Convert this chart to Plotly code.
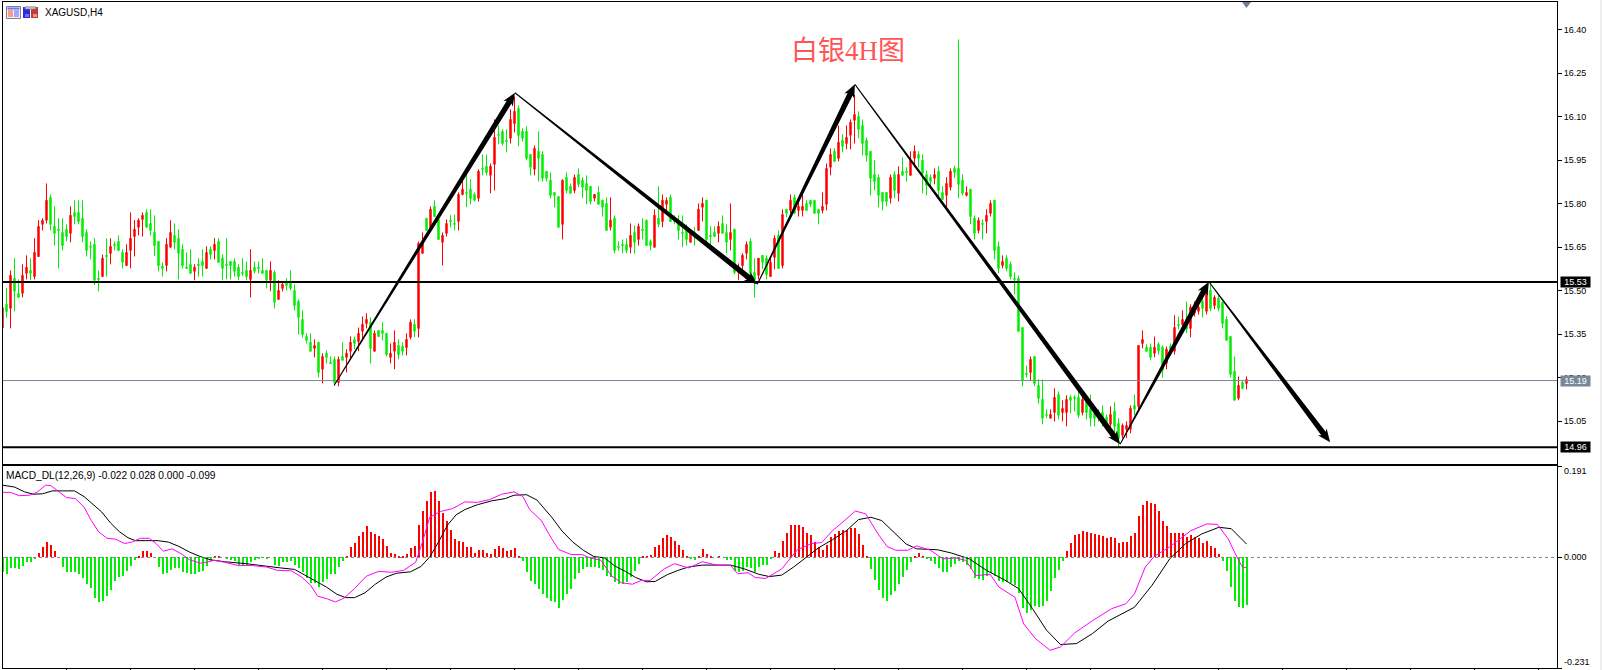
import math
import plotly.graph_objects as go
from plotly.subplots import make_subplots

SYMBOL = "XAGUSD,H4"
HEADING = "白银4H图"
MACD_CAPTION = "MACD_DL(12,26,9) -0.022 0.028 0.000 -0.099"

# R = bar closed higher, G = bar closed lower
directions = (
    "RGRGGRRGRR" "RRGGGGGRGG" "GGGGGRGRGG" "GRRRRRGGGG" "GRRGGGGGRG" "GRGRGGGGGG"
    "GGRGGGGRGR" "RGGGGGGGRG" "RGGGRGRRGR" "RRGRGGGRRG" "GRRGRRGRGG" "RRGGRRGGGR"
    "GGRRGGGRRG" "GGGRGGGGGG" "RGGRGGGGRG" "GGRGGGGRGR" "GGGRGRRGGG" "GGRGRRGGGR"
    "GGRGRRRGGR" "GGRRGRGRGR" "RGGGGRRRGR" "GRRRGGGGGG" "GGRGRGGRRG" "GGGRGGRRGG"
    "GRGGRGRRGG" "RGGGGGGRGG" "GGRRGRRGGG" "RGGGGGGRGG" "RRRGRRGGRG" "GRGRGRGRRR"
    "GRGRGGGGGR" "GR"
)

highs = [
    15.441,15.510,15.570,15.612,15.539,15.591,15.622,15.612,15.681,15.743,
    15.750,15.870,15.832,15.791,15.750,15.750,15.729,15.791,15.812,15.812,
    15.812,15.712,15.670,15.681,15.570,15.625,15.681,15.681,15.670,15.691,
    15.643,15.660,15.770,15.743,15.750,15.770,15.781,15.781,15.760,15.670,
    15.598,15.681,15.743,15.732,15.712,15.660,15.632,15.643,15.591,15.612,
    15.643,15.653,15.653,15.681,15.681,15.625,15.681,15.601,15.612,15.591,
    15.612,15.601,15.643,15.601,15.601,15.612,15.570,15.601,15.570,15.536,
    15.532,15.543,15.570,15.522,15.470,15.432,15.353,15.353,15.332,15.322,
    15.284,15.294,15.273,15.273,15.273,15.322,15.298,15.342,15.342,15.373,
    15.411,15.422,15.408,15.363,15.363,15.391,15.353,15.318,15.363,15.332,
    15.322,15.353,15.401,15.401,15.670,15.701,15.750,15.791,15.812,15.746,
    15.701,15.746,15.760,15.763,15.839,15.884,15.901,15.884,15.839,15.919,
    15.970,15.970,15.939,16.091,16.070,16.057,16.057,16.126,16.170,16.139,
    16.060,16.067,15.970,16.001,16.050,15.981,15.912,15.908,15.839,15.825,
    15.884,15.908,15.870,15.901,15.922,15.891,15.898,15.860,15.832,15.860,
    15.812,15.822,15.822,15.760,15.670,15.677,15.681,15.732,15.725,15.732,
    15.750,15.746,15.677,15.781,15.860,15.832,15.822,15.832,15.760,15.760,
    15.760,15.729,15.712,15.719,15.801,15.822,15.812,15.722,15.722,15.739,
    15.760,15.729,15.801,15.712,15.594,15.629,15.670,15.681,15.612,15.612,
    15.622,15.622,15.618,15.691,15.708,15.781,15.781,15.832,15.832,15.812,
    15.832,15.812,15.812,15.812,15.781,15.839,15.939,15.991,15.991,16.070,
    16.039,16.070,16.091,16.177,16.119,16.091,16.029,15.981,15.950,15.901,
    15.839,15.839,15.901,15.912,15.929,15.960,15.926,15.981,16.001,15.981,
    15.970,15.915,15.901,15.922,15.929,15.860,15.891,15.922,15.932,16.367,
    15.901,15.860,15.850,15.760,15.753,15.746,15.781,15.812,15.812,15.670,
    15.622,15.622,15.601,15.563,15.553,15.373,15.242,15.273,15.273,15.194,
    15.194,15.091,15.091,15.163,15.153,15.122,15.139,15.139,15.139,15.153,
    15.142,15.142,15.142,15.087,15.091,15.104,15.073,15.101,15.115,15.060,
    15.042,15.049,15.104,15.142,15.311,15.363,15.315,15.318,15.342,15.322,
    15.311,15.308,15.318,15.415,15.411,15.432,15.463,15.453,15.463,15.463,
    15.484,15.505,15.532,15.484,15.484,15.460,15.411,15.342,15.273,15.204,
    15.191,15.204,
]

body_tops = [
    15.441,15.453,15.553,15.543,15.491,15.553,15.581,15.570,15.632,15.722,
    15.743,15.812,15.822,15.722,15.712,15.701,15.712,15.760,15.770,15.770,
    15.750,15.701,15.653,15.660,15.543,15.612,15.622,15.653,15.660,15.670,
    15.632,15.632,15.681,15.712,15.743,15.760,15.770,15.732,15.701,15.670,
    15.584,15.660,15.701,15.691,15.681,15.643,15.581,15.591,15.581,15.591,
    15.601,15.632,15.643,15.660,15.670,15.612,15.591,15.601,15.601,15.581,
    15.563,15.570,15.570,15.581,15.581,15.570,15.570,15.570,15.563,15.501,
    15.522,15.529,15.532,15.501,15.463,15.401,15.342,15.322,15.311,15.322,
    15.273,15.284,15.253,15.263,15.263,15.273,15.284,15.322,15.332,15.353,
    15.384,15.401,15.391,15.353,15.363,15.363,15.353,15.284,15.322,15.311,
    15.308,15.332,15.391,15.384,15.663,15.663,15.750,15.781,15.791,15.746,
    15.691,15.732,15.743,15.732,15.832,15.850,15.839,15.850,15.832,15.912,
    15.922,15.929,15.929,16.029,16.039,16.050,16.019,16.091,16.119,16.129,
    16.050,16.050,15.970,15.991,15.981,15.970,15.912,15.881,15.839,15.825,
    15.881,15.891,15.860,15.891,15.901,15.881,15.870,15.860,15.832,15.839,
    15.812,15.801,15.743,15.750,15.653,15.660,15.660,15.691,15.701,15.722,
    15.712,15.743,15.670,15.760,15.750,15.812,15.812,15.822,15.743,15.732,
    15.701,15.722,15.701,15.701,15.781,15.801,15.812,15.691,15.701,15.722,
    15.732,15.701,15.701,15.712,15.581,15.622,15.660,15.670,15.563,15.612,
    15.622,15.612,15.598,15.681,15.691,15.763,15.781,15.812,15.822,15.791,
    15.791,15.801,15.812,15.812,15.781,15.791,15.922,15.970,15.981,16.012,
    16.019,16.029,16.081,16.108,16.101,16.070,16.019,15.981,15.901,15.891,
    15.839,15.839,15.891,15.901,15.901,15.912,15.912,15.950,15.981,15.970,
    15.950,15.901,15.891,15.901,15.912,15.839,15.870,15.912,15.922,15.922,
    15.881,15.839,15.850,15.750,15.743,15.732,15.760,15.801,15.812,15.653,
    15.601,15.612,15.591,15.543,15.543,15.373,15.215,15.263,15.273,15.173,
    15.125,15.073,15.073,15.132,15.142,15.094,15.125,15.132,15.132,15.132,
    15.125,15.118,15.094,15.077,15.080,15.080,15.063,15.073,15.084,15.042,
    15.035,15.035,15.094,15.104,15.311,15.332,15.305,15.305,15.305,15.315,
    15.305,15.298,15.308,15.373,15.384,15.401,15.401,15.443,15.443,15.443,
    15.463,15.498,15.501,15.477,15.474,15.460,15.401,15.342,15.222,15.173,
    15.184,15.194,
]

body_bottoms = [
    15.372,15.428,15.439,15.498,15.477,15.491,15.560,15.560,15.549,15.618,
    15.729,15.743,15.729,15.698,15.708,15.656,15.687,15.698,15.756,15.739,
    15.687,15.639,15.650,15.536,15.539,15.549,15.618,15.629,15.656,15.639,
    15.598,15.587,15.639,15.687,15.719,15.746,15.719,15.708,15.656,15.587,
    15.577,15.587,15.650,15.667,15.629,15.587,15.577,15.560,15.567,15.587,
    15.587,15.577,15.625,15.639,15.598,15.577,15.587,15.587,15.567,15.549,
    15.560,15.549,15.539,15.567,15.577,15.560,15.536,15.536,15.460,15.470,
    15.508,15.518,15.508,15.449,15.408,15.349,15.329,15.291,15.301,15.218,
    15.229,15.270,15.249,15.183,15.183,15.260,15.270,15.291,15.318,15.325,
    15.360,15.387,15.301,15.291,15.342,15.353,15.280,15.270,15.291,15.280,
    15.291,15.304,15.339,15.360,15.370,15.629,15.708,15.719,15.756,15.677,
    15.667,15.698,15.739,15.729,15.739,15.832,15.836,15.819,15.812,15.819,
    15.919,15.908,15.898,15.936,16.036,16.008,16.015,16.026,16.077,16.036,
    16.026,15.957,15.926,15.919,15.957,15.888,15.888,15.829,15.829,15.719,
    15.729,15.846,15.836,15.846,15.867,15.857,15.846,15.808,15.819,15.798,
    15.788,15.708,15.719,15.639,15.650,15.656,15.639,15.650,15.667,15.677,
    15.708,15.656,15.656,15.650,15.729,15.739,15.798,15.739,15.739,15.708,
    15.698,15.677,15.667,15.698,15.708,15.788,15.677,15.687,15.687,15.698,
    15.698,15.667,15.677,15.563,15.563,15.587,15.629,15.560,15.539,15.553,
    15.598,15.556,15.549,15.615,15.577,15.587,15.767,15.777,15.767,15.777,
    15.777,15.777,15.798,15.767,15.767,15.777,15.798,15.926,15.946,15.957,
    15.998,16.008,16.036,16.088,16.057,16.008,15.967,15.888,15.877,15.829,
    15.808,15.808,15.819,15.846,15.836,15.898,15.908,15.898,15.957,15.957,
    15.905,15.863,15.877,15.888,15.846,15.815,15.829,15.857,15.908,15.867,
    15.836,15.829,15.756,15.698,15.708,15.729,15.739,15.767,15.639,15.577,
    15.587,15.577,15.549,15.539,15.360,15.191,15.211,15.218,15.180,15.129,
    15.060,15.070,15.060,15.080,15.070,15.080,15.080,15.122,15.129,15.070,
    15.080,15.080,15.060,15.060,15.066,15.060,15.042,15.039,15.032,14.991,
    15.001,15.022,15.022,15.091,15.101,15.318,15.291,15.270,15.284,15.294,
    15.225,15.249,15.298,15.291,15.380,15.384,15.367,15.370,15.422,15.429,
    15.439,15.429,15.439,15.449,15.439,15.387,15.329,15.211,15.122,15.129,
    15.163,15.180,
]

lows = [
    15.372,15.407,15.370,15.429,15.477,15.477,15.539,15.536,15.539,15.618,
    15.708,15.732,15.708,15.656,15.577,15.639,15.670,15.667,15.729,15.729,
    15.667,15.618,15.608,15.520,15.498,15.549,15.549,15.591,15.639,15.639,
    15.577,15.587,15.577,15.618,15.691,15.687,15.719,15.691,15.620,15.567,
    15.549,15.567,15.650,15.643,15.539,15.577,15.577,15.560,15.536,15.549,
    15.549,15.577,15.608,15.608,15.598,15.536,15.539,15.539,15.549,15.536,
    15.551,15.536,15.477,15.560,15.560,15.560,15.508,15.498,15.439,15.470,
    15.498,15.501,15.501,15.432,15.349,15.338,15.318,15.291,15.270,15.201,
    15.180,15.249,15.249,15.173,15.170,15.260,15.218,15.263,15.298,15.291,
    15.332,15.370,15.249,15.291,15.342,15.329,15.273,15.249,15.229,15.263,
    15.277,15.277,15.332,15.339,15.339,15.629,15.708,15.719,15.756,15.677,
    15.587,15.687,15.719,15.708,15.708,15.829,15.788,15.798,15.808,15.808,
    15.898,15.898,15.836,15.846,16.005,16.001,15.977,16.008,16.046,15.998,
    16.015,15.950,15.898,15.898,15.877,15.877,15.877,15.819,15.788,15.719,
    15.677,15.836,15.836,15.836,15.857,15.819,15.798,15.798,15.808,15.798,
    15.756,15.708,15.708,15.629,15.639,15.629,15.629,15.629,15.629,15.656,
    15.677,15.656,15.639,15.650,15.719,15.719,15.767,15.739,15.729,15.677,
    15.650,15.656,15.667,15.656,15.708,15.739,15.667,15.656,15.687,15.667,
    15.698,15.629,15.639,15.556,15.536,15.556,15.608,15.539,15.477,15.539,
    15.574,15.539,15.549,15.574,15.577,15.577,15.753,15.767,15.767,15.756,
    15.756,15.777,15.788,15.767,15.729,15.767,15.777,15.898,15.946,15.946,
    15.977,15.988,15.988,16.008,16.026,15.967,15.946,15.829,15.846,15.788,
    15.777,15.791,15.801,15.819,15.808,15.898,15.877,15.898,15.926,15.926,
    15.836,15.829,15.863,15.867,15.825,15.815,15.777,15.846,15.888,15.819,
    15.829,15.825,15.729,15.677,15.698,15.677,15.698,15.756,15.608,15.560,
    15.577,15.567,15.539,15.487,15.360,15.170,15.201,15.191,15.170,15.111,
    15.039,15.060,15.060,15.049,15.056,15.049,15.032,15.077,15.084,15.060,
    15.070,15.056,15.032,15.032,15.049,15.032,15.018,15.008,15.001,14.960,
    14.991,14.991,15.008,15.070,15.091,15.301,15.291,15.260,15.270,15.280,
    15.201,15.229,15.280,15.280,15.367,15.353,15.353,15.339,15.411,15.418,
    15.408,15.418,15.429,15.436,15.429,15.370,15.329,15.201,15.122,15.122,
    15.160,15.160,
]

macd_hist = [
    -.030,-.034,-.023,-.023,-.024,-.018,-.010,-.009,-.003,.010,
    .021,.033,.027,.013,0,-.019,-.031,-.031,-.031,-.035,
    -.044,-.056,-.063,-.084,-.093,-.090,-.081,-.067,-.049,-.040,
    -.038,-.029,-.018,-.006,.004,.013,.013,.010,0,-.020,
    -.035,-.033,-.027,-.023,-.023,-.031,-.033,-.035,-.035,-.031,
    -.029,-.017,-.008,.004,.002,0,-.002,-.006,-.008,-.015,
    -.017,-.015,-.010,-.006,-.002,0,-.004,0,-.015,-.017,
    -.010,-.010,-.008,-.015,-.023,-.031,-.044,-.054,-.054,-.062,
    -.052,-.046,-.035,-.035,-.021,-.008,.004,.021,.031,.044,
    .054,.065,.054,.048,.045,.038,.023,.010,.008,.004,
    .004,.008,.019,.023,.067,.096,.117,.136,.138,.117,
    .092,.077,.058,.038,.035,.033,.021,.021,.010,.015,
    .015,.010,.008,.017,.023,.019,.013,.015,.019,.004,
    -.008,-.031,-.050,-.056,-.065,-.077,-.084,-.092,-.094,-.106,
    -.088,-.077,-.065,-.046,-.033,-.025,-.019,-.021,-.021,-.023,
    -.027,-.038,-.040,-.052,-.056,-.056,-.052,-.040,-.029,-.013,
    .002,.004,.006,.021,.025,.040,.046,.042,.035,.025,
    .015,.002,-.002,-.006,.004,.017,.008,.004,0,.002,
    0,-.006,-.006,-.029,-.031,-.029,-.021,-.023,-.031,-.021,
    -.015,-.015,-.004,.013,.010,.035,.052,.067,.067,.067,
    .063,.052,.046,.033,.021,.015,.027,.042,.048,.056,
    .058,.058,.061,.061,.048,.027,.004,-.025,-.048,-.069,
    -.084,-.090,-.079,-.071,-.056,-.040,-.027,-.010,.002,.010,
    .004,-.002,-.008,-.013,-.023,-.031,-.031,-.019,-.013,-.008,
    -.010,-.015,-.025,-.042,-.046,-.048,-.038,-.033,-.038,-.050,
    -.052,-.052,-.054,-.058,-.075,-.106,-.117,-.109,-.102,-.104,
    -.102,-.090,-.071,-.042,-.027,-.008,.013,.031,.046,.048,
    .056,.054,.050,.048,.046,.044,.040,.042,.040,.031,
    .033,.033,.044,.050,.086,.109,.117,.113,.111,.098,
    .077,.065,.050,.050,.050,.050,.042,.046,.042,.040,
    .031,.035,.023,.019,.008,-.008,-.029,-.061,-.092,-.104,
    -.106,-.099,
]

macd_bars = [
    0,2,4.2,6.8,8.6,10.8,12.1,14.7,16,18.2,20.4,22.2,24,26.1,28.3,30.5,32.3,34.5,36.7,38.4,
    40.2,42.4,44.6,46.8,49.4,51.1,52.9,55.5,59,62.5,66,68.7,72.2,74.8,77,78.8,81,83.2,85.4,88,
    91,94.1,97.2,100.3,103.3,105.1,106.8,109.5,112.5,115.6,118.7,121.8,124.8,127.9,130.1,131.8,
    134.7,137.3,139,142.1,144.8,146.9,149.6,152.2,154.8,157.5,159.7,161.9,165.4,168,171.5,175,
    178.5,182,183.8,186.4,188.2,190.8,193,194.8,198.7,202.2,204.8,207.5,210.1,213.2,215.8,218.9,
    221.1,223.3,226.3,228.5,232,235.1,238.2,240.8,243.4,246.9,249.1,253.1,255.3,258.3,261.9,
    264.5,268,272.5,277.3,280.8,283,285.7,287.9,291.8,297.1,301.1,303.7,306.4,308.6,309.9,311,
]
macd_values = [
    .136,.136,.129,.130,.136,.151,.150,.133,.125,.123,.105,.077,.054,.040,.038,.029,.032,.040,.040,.029,
    .013,.018,.008,-.005,-.012,-.010,-.006,-.010,-.017,-.017,-.020,-.027,-.028,-.041,-.058,-.081,-.086,-.093,-.085,-.065,
    -.039,-.029,-.031,-.027,-.010,.035,.084,.096,.102,.116,.115,.121,.132,.137,.127,.100,
    .077,.039,.017,.006,.006,-.001,-.006,-.038,-.053,-.056,-.048,-.048,-.024,-.013,-.022,-.009,
    -.016,-.017,-.034,-.032,-.042,-.044,-.033,-.024,.016,.029,.031,.056,.074,.097,.091,.049,
    .023,.015,.015,.024,.015,-.003,-.001,-.006,-.038,-.035,-.062,-.083,-.139,-.170,-.194,
    -.187,-.158,-.132,-.107,-.097,-.076,-.020,.002,.022,.056,.070,.069,.039,.001,-.019,-.022,
]

signal_bars = [
    0,3,5.5,7.7,10,12.5,15,18,20.4,22.6,24.8,27,29.2,31.4,33.2,35.8,38.9,41.5,44.1,46.8,
    49.4,52,55.5,60.8,66,69.6,73,75.7,78.3,81,83.6,85.8,88,90.6,93.2,95.9,98.5,102,104.6,106.8,
    109,111.2,113.4,115.6,118.7,122.2,125.7,127.9,131,133.6,
    137.3,139.9,142.6,145.2,147.8,150.5,153.1,155.7,158.3,161,163.2,166.2,168.9,171.5,175,182,
    185.5,189,191.7,194.8,197.8,200.9,204,207.5,211,214,217.1,219.8,222.4,225.9,228.5,233.8,
    237.3,241.7,246,250.5,254,257.5,261,264.5,268.5,272.5,276.4,283,287.4,291.8,295.8,299.8,
    304.1,307.2,311,
]
signal_values = [
    .151,.147,.137,.132,.133,.139,.139,.139,.127,.112,.095,.072,.054,.041,.035,.035,.035,.032,.023,.011,
    .002,-.005,-.009,-.013,-.019,-.022,-.025,-.038,-.049,-.062,-.077,-.084,-.084,-.074,-.056,-.041,-.033,-.030,-.019,.001,
    .032,.067,.089,.100,.110,.118,.123,.130,.131,.120,
    .084,.055,.032,.015,.002,-.001,-.018,-.029,-.042,-.051,-.050,-.036,-.027,-.020,-.016,-.016,
    -.024,-.035,-.040,-.037,-.020,0,.020,.037,.056,.079,.084,.077,.056,.028,.018,.016,
    .009,-.003,-.027,-.047,-.065,-.107,-.152,-.182,-.180,-.159,-.133,-.104,-.058,-.003,.029,.049,
    .063,.060,.028,
]

# Support and resistance levels with their colours
levels = [15.53, 15.19, 14.96]
level_colors = ["#000000", "#778899", "#000000"]
level_widths = [2, 1, 2]

# Swing path drawn with tapered arrows: (bar position, price)
swing_bars = [82.9, 128.1, 188.7, 213.1, 279.4, 301.6, 331.9]
swing_prices = [15.173, 16.183, 15.522, 16.212, 14.970, 15.531, 14.977]

price_ticks = [16.40, 16.25, 16.10, 15.95, 15.80, 15.65, 15.50, 15.35, 15.20, 15.05]
macd_ticks = [0.191, 0.0, -0.231]

assert len(highs) == len(lows) == len(body_tops) == len(body_bottoms) == len(macd_hist) == len(directions), (
    len(highs), len(lows), len(body_tops), len(body_bottoms), len(macd_hist), len(directions))
assert len(macd_bars) == len(macd_values), (len(macd_bars), len(macd_values))
assert len(signal_bars) == len(signal_values), (len(signal_bars), len(signal_values))

bars = list(range(len(highs)))
opens = [b if d == "R" else t for t, b, d in zip(body_tops, body_bottoms, directions)]
closes = [t if d == "R" else b for t, b, d in zip(body_tops, body_bottoms, directions)]

WIDTH, HEIGHT = 1602, 670
LEFT, RIGHT, TOP, BOTTOM = 3, 45, 2, 2
PLOT_W = WIDTH - LEFT - RIGHT
PLOT_H = HEIGHT - TOP - BOTTOM
MAIN_BOTTOM_PX = 464
MACD_TOP_PX = 466
BAR_RANGE = [0.125, 0.125 + PLOT_W / 4]
PRICE_RANGE = [14.9021, 16.4961]
MACD_RANGE = [-0.231, 0.191]
RED = "#ff0000"
GREEN = "#00ee00"


def px(x_pixel):
    return (x_pixel - LEFT) / PLOT_W


def py(y_pixel):
    return (HEIGHT - BOTTOM - y_pixel) / PLOT_H


fig = make_subplots(rows=2, cols=1, shared_xaxes=False, vertical_spacing=0)

fig.add_trace(go.Candlestick(
    x=bars, open=opens, high=highs, low=lows, close=closes,
    increasing=dict(line=dict(color=RED, width=1), fillcolor=RED),
    decreasing=dict(line=dict(color=GREEN, width=1), fillcolor=GREEN),
    whiskerwidth=0, hoverinfo="skip", showlegend=False,
), row=1, col=1)

fig.add_trace(go.Bar(
    x=bars, y=macd_hist, width=0.5,
    marker=dict(color=[RED if v >= 0 else GREEN for v in macd_hist], line=dict(width=0)),
    hoverinfo="skip", showlegend=False,
), row=2, col=1)
fig.add_trace(go.Scatter(
    x=signal_bars, y=signal_values, mode="lines",
    line=dict(color="#000000", width=1), hoverinfo="skip", showlegend=False,
), row=2, col=1)
fig.add_trace(go.Scatter(
    x=macd_bars, y=macd_values, mode="lines",
    line=dict(color="#ff00ff", width=1), hoverinfo="skip", showlegend=False,
), row=2, col=1)

shapes = []

# Horizontal levels across the price panel
for level, color, width in zip(levels, level_colors, level_widths):
    shapes.append(dict(type="line", xref="x domain", yref="y", x0=0, x1=1, y0=level, y1=level,
                       line=dict(color=color, width=width), layer="above"))

# Dashed zero line in the oscillator panel
shapes.append(dict(type="line", xref="x2 domain", yref="y2", x0=0, x1=1, y0=0, y1=0,
                   line=dict(color="#808080", width=1, dash="3px,3px"), layer="above"))

# Tapered arrows: the pixel scale of each axis turns a width in pixels into data units
main_h_px = MAIN_BOTTOM_PX - TOP
x_scale = PLOT_W / (BAR_RANGE[1] - BAR_RANGE[0])
y_scale = main_h_px / (PRICE_RANGE[1] - PRICE_RANGE[0])
for i in range(len(swing_bars) - 1):
    x0, y0, x1, y1 = swing_bars[i], swing_prices[i], swing_bars[i + 1], swing_prices[i + 1]
    dx = (x1 - x0) * x_scale
    dy = (y1 - y0) * y_scale
    length = math.hypot(dx, dy)
    ux, uy = dx / length, dy / length
    nx, ny = -uy, ux

    def at(along, side):
        return (x0 + (ux * along + nx * side) / x_scale, y0 + (uy * along + ny * side) / y_scale)

    neck = length - 11
    outline = [at(0, 0.5), at(neck, 2.8), at(neck - 2, 5.5), at(length, 0),
               at(neck - 2, -5.5), at(neck, -2.8), at(0, -0.5)]
    path = "M " + " L ".join(f"{a:.3f},{b:.4f}" for a, b in outline) + " Z"
    shapes.append(dict(type="path", xref="x", yref="y", path=path,
                       fillcolor="#000000", line=dict(width=0), layer="above"))


def rect(x0, y0, x1, y1, fill, line=None):
    shapes.append(dict(type="rect", xref="paper", yref="paper",
                       x0=px(x0), x1=px(x1), y0=py(y0), y1=py(y1), fillcolor=fill,
                       line=dict(color=line, width=1) if line else dict(width=0), layer="above"))


# Window-style toolbar glyphs beside the symbol name
rect(6.5, 6.5, 20.5, 18.5, "#f2f2f2", "#7d7d9d")
rect(7.5, 7.5, 19.5, 9.5, "#6f78ef")
rect(8, 10, 13, 17, "#ff9a8a")
rect(14, 10, 19, 17, "#9fa8ff")
rect(23, 7, 30, 18, "#2a2ae0")
rect(31, 7, 38, 18, "#c83a3a")
rect(25, 7, 36, 9, "#ffffff", "#707070")
rect(25, 14, 29, 17, "#6f6ff0")
rect(33, 14, 37, 17, "#e89090")

# Chart-shift marker on the top edge
shapes.append(dict(type="path", xref="paper", yref="paper",
                   path=f"M {px(1242)},{py(2)} L {px(1251)},{py(2)} L {px(1246.5)},{py(8)} Z",
                   fillcolor="#708090", line=dict(width=0), layer="above"))
# Pale strip at the far right edge
rect(1600, 0, 1602, 670, "#eeeeee")

annotations = []
TEXT_FONT = "Liberation Sans"


def note(text, x_pixel, y_value, yref, color="#000000", bg=None, yshift=0, size=9, anchor="left", width=None):
    annotations.append(dict(
        text=text, xref="paper", x=px(x_pixel), yref=yref, y=y_value, yshift=yshift,
        xanchor=anchor, yanchor="middle", showarrow=False, align="center",
        bgcolor=bg, borderpad=0, width=width, height=10 if bg else None,
        font=dict(family=TEXT_FONT, size=size, color=color),
    ))


note(SYMBOL, 44, py(12.5), "paper", size=10)
note(MACD_CAPTION, 5, py(475.5), "paper", size=10.2)
annotations.append(dict(
    text=HEADING, xref="paper", x=px(848), yref="paper", y=py(51),
    xanchor="center", yanchor="middle", showarrow=False,
    font=dict(family="Liberation Serif, Noto Sans CJK SC", size=27, color="#ff5555"),
))

for level, color in zip(levels, level_colors):
    note(f"{level:.2f}", 1560, level, "y", color="#ffffff", bg=color, width=29)

note(f"{macd_ticks[0]:.3f}", 1563, macd_ticks[0], "y2", yshift=-5)
note(f"{macd_ticks[1]:.3f}", 1563, macd_ticks[1], "y2")
note(f"{macd_ticks[2]:.3f}", 1563, macd_ticks[2], "y2", yshift=6)

axis_common = dict(showgrid=False, zeroline=False, showline=True, linecolor="#000000", linewidth=1,
                   mirror=True, automargin=False)

fig.update_layout(
    width=WIDTH, height=HEIGHT, autosize=False,
    margin=dict(l=LEFT, r=RIGHT, t=TOP, b=BOTTOM, pad=0),
    paper_bgcolor="#ffffff", plot_bgcolor="#ffffff",
    shapes=shapes, annotations=annotations, showlegend=False, bargap=0, boxgap=0.5,
    barmode="overlay",
    xaxis=dict(range=BAR_RANGE, domain=[0, 1], showticklabels=False, ticks="",
               rangeslider=dict(visible=False), **axis_common),
    xaxis2=dict(range=BAR_RANGE, domain=[0, 1], showticklabels=False, ticks="outside", ticklen=5,
                tickcolor="#000000", tick0=0, dtick=16, **axis_common),
    yaxis=dict(range=PRICE_RANGE, domain=[py(MAIN_BOTTOM_PX), 1], side="right", ticks="outside", ticklen=4,
               tickcolor="#000000", tickvals=price_ticks, ticktext=[f"{v:.2f}" for v in price_ticks],
               tickfont=dict(family=TEXT_FONT, size=9, color="#000000"), **axis_common),
    yaxis2=dict(range=MACD_RANGE, domain=[0, py(MACD_TOP_PX)], side="right", ticks="outside", ticklen=4,
                tickcolor="#000000", tickvals=macd_ticks, showticklabels=False, **axis_common),
)

fig.write_html("out.html", config={"displayModeBar": False})
